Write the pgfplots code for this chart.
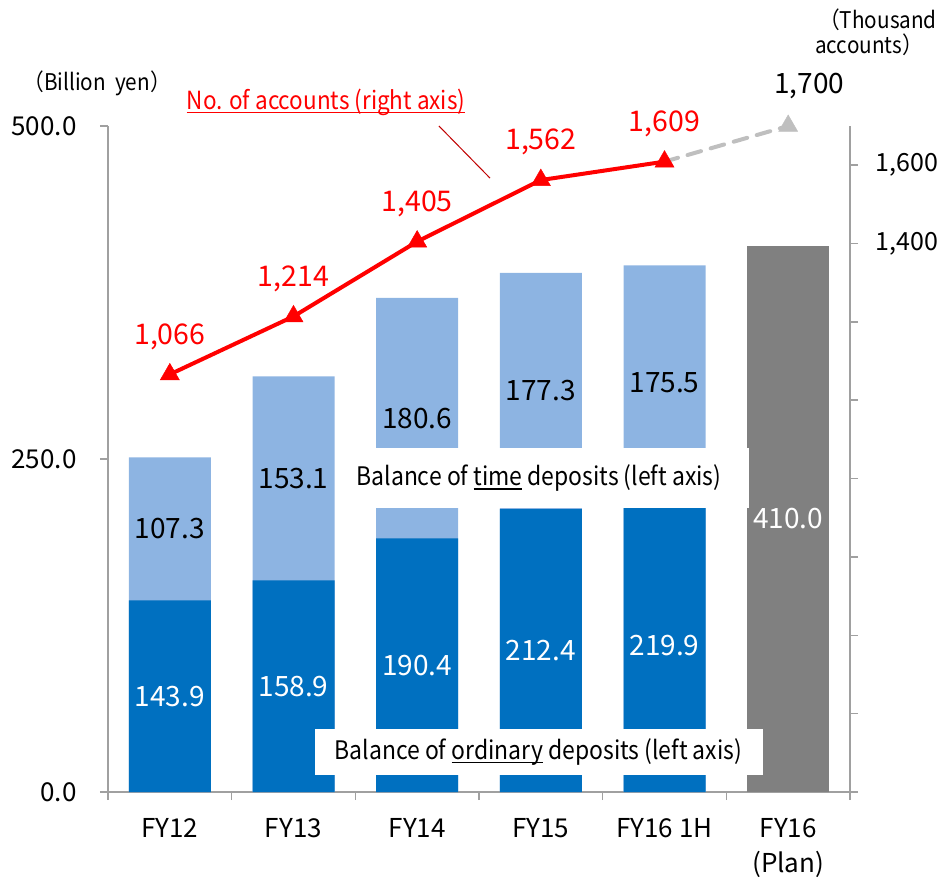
\documentclass[border=0pt]{standalone}
\usepackage{fontspec}
\setmainfont{Noto Sans CJK JP}
\newfontfamily\narrow{Noto Sans CJK JP}[FakeStretch=0.9]
\usepackage{pgfplots}
\pgfplotsset{compat=1.18}
\definecolor{ordblue}{RGB}{0,112,192}
\definecolor{timeblue}{RGB}{141,180,226}
\definecolor{plangray}{RGB}{128,128,128}
\definecolor{axgray}{RGB}{160,160,160}
\definecolor{dashgray}{RGB}{191,191,191}
\definecolor{leaderred}{RGB}{192,0,0}
\newcommand\fs[1]{\fontsize{#1}{#1}\selectfont}
\newcommand\ul[1]{\setbox0\hbox{#1}\rlap{\rule[-4pt]{\wd0}{1.6pt}}\box0\relax}
\begin{document}
\begin{tikzpicture}
\path[use as bounding box] (-108pt,-89pt) rectangle (833pt,792pt);
\begin{axis}[
  scale only axis, width=742pt, height=666pt,
  xmin=-0.5, xmax=5.5, ymin=0, ymax=500,
  axis x line*=bottom, axis y line*=left,
  axis line style={axgray, line width=1.5pt, -},
  tick align=outside,
  major tick length=8pt, minor tick length=8pt,
  tick style={axgray, line width=1.5pt},
  xtick={0,...,5},
  xticklabels={FY12,FY13,FY14,FY15,FY16 1H,FY16\\(Plan)},
  xticklabel style={align=center, font=\fontsize{26}{35}\selectfont, text depth=0pt, yshift=-15pt},
  major x tick style={draw=none},
  minor xtick={-0.5,0.5,...,5.5},
  ytick={0,250,500},
  yticklabels={0.0,250.0,500.0},
  yticklabel style={font=\fs{26}, xshift=-20pt},
  clip=false,
]
\addplot[ybar, bar width=82pt, bar shift=0pt, fill=timeblue, draw=none] coordinates {(0,251.2) (1,312.0) (2,371.0) (3,389.7) (4,395.4)};
\addplot[ybar, bar width=82pt, bar shift=0pt, fill=ordblue, draw=none] coordinates {(0,143.9) (1,158.9) (2,190.4) (3,212.4) (4,219.9)};
\addplot[ybar, bar width=82pt, bar shift=0pt, fill=plangray, draw=none] coordinates {(5,410.0)};
% white callout boxes
\fill[white] (axis cs:1.344,213.2) rectangle (axis cs:4.683,258.3);
\fill[white] (axis cs:1.174,12.8) rectangle (axis cs:4.796,47.3);
\node[font=\narrow\fs{25.5}, anchor=center] at (axis cs:2.985,235.7) {Balance of \ul{time} deposits (left axis)};
\node[font=\narrow\fs{25.5}, anchor=center] at (axis cs:2.98,30) {Balance of \ul{ordinary} deposits (left axis)};
% value labels
\addplot[draw=none, mark=none, nodes near coords, point meta=explicit symbolic,
  every node near coord/.append style={anchor=center, text=white, font=\fs{28}}]
  coordinates {(0,71.95)[143.9] (1,79.45)[158.9] (2,95.2)[190.4] (3,106.2)[212.4] (4,109.95)[219.9] (5,205)[410.0]};
\addplot[draw=none, mark=none, nodes near coords, point meta=explicit symbolic,
  every node near coord/.append style={anchor=center, text=black, font=\fs{28}}]
  coordinates {(0,197.55)[107.3] (1,235.45)[153.1] (2,280.7)[180.6] (3,301.05)[177.3] (4,307.65)[175.5]};
\end{axis}
\begin{axis}[
  scale only axis, width=742pt, height=666pt,
  xmin=-0.5, xmax=5.5, ymin=0, ymax=1700,
  axis x line=none, axis y line*=right,
  axis line style={axgray, line width=1.5pt, -},
  tick align=outside, major tick length=8pt,
  tick style={axgray, line width=1.5pt},
  ytick={0,200,...,1600},
  yticklabels={,,,,,,,{1,400},{1,600}},
  yticklabel style={font=\fs{25}, xshift=14pt},
  clip=false,
]
\addplot[dashgray, line width=4pt, dash pattern=on 14pt off 10pt, line cap=round,
  mark=triangle*, mark size=11pt, mark indices={2},
  mark options={solid, fill=dashgray, draw=dashgray, line width=0.5pt}]
  coordinates {(4,1609) (5,1700)};
\addplot[red, line width=4pt, mark=triangle*, mark size=11pt,
  mark options={solid, fill=red, draw=red, line width=0.5pt},
  nodes near coords, point meta=explicit symbolic,
  every node near coord/.append style={anchor=center, yshift=38pt, text=red, font=\fs{28.5}}]
  coordinates {(0,1066)[1{,}066] (1,1214)[1{,}214] (2,1405)[1{,}405] (3,1562)[1{,}562] (4,1609)[1{,}609]};
\node[font=\fs{28}, anchor=center] at (axis cs:5,1700) [xshift=21pt, yshift=40pt] {1,700};
\draw[leaderred, line width=1pt] (axis cs:2.176,1700) -- (axis cs:2.589,1567);
\node[font=\narrow\fs{25}, text=red, anchor=center] at (axis cs:1.263,1761) {\ul{No. of accounts (right axis)}};
\end{axis}
\node[font=\narrow\fs{23}, anchor=center] at (-11pt,709pt) {（Billion\ \ yen）};
\node[font=\narrow\fs{23}, anchor=east, inner sep=0pt] at (829pt,772pt) {（Thousand};
\node[font=\narrow\fs{23}, anchor=west, inner sep=0pt] at (707pt,747pt) {accounts）};
\end{tikzpicture}
\end{document}
